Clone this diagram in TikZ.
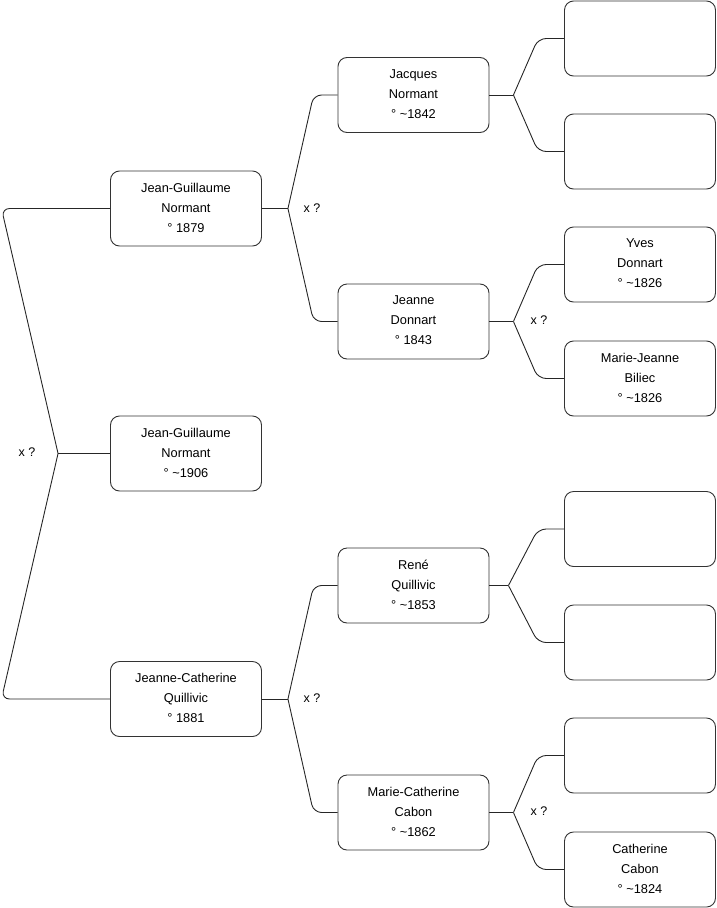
\documentclass[tikz,border=0pt]{standalone}
\usepackage{fontspec}
\setmainfont{Liberation Sans}
\begin{document}
\begin{tikzpicture}[x=1pt,y=-1pt,
  person/.style={draw=black!80, line width=0.9pt, rounded corners=9pt, minimum width=151pt, minimum height=75pt, align=center, font=\fontsize{12.8}{20}\selectfont, inner sep=0pt, text depth=2pt},
  conn/.style={draw=black!85, line width=0.9pt},
  lbl/.style={font=\fontsize{12.5}{14}\selectfont, inner sep=0pt}]
\useasboundingbox (0,0) rectangle (716,908);
% column 1
\node[person] (g1) at (186,208.5) {Jean-Guillaume\\Normant\\° 1879};
\node[person] (me) at (186,453.5) {Jean-Guillaume\\Normant\\° \textasciitilde1906};
\node[person] (g2) at (186,699) {Jeanne-Catherine\\Quillivic\\° 1881};
% column 2
\node[person] (p1) at (413.5,95) {Jacques\\Normant\\° \textasciitilde1842};
\node[person] (p2) at (413.5,321.5) {Jeanne\\Donnart\\° 1843};
\node[person] (p3) at (413.5,585.5) {René\\Quillivic\\° \textasciitilde1853};
\node[person] (p4) at (413.5,812.5) {Marie-Catherine\\Cabon\\° \textasciitilde1862};
% column 3
\node[person] (q1) at (640,38.5) {};
\node[person] (q2) at (640,151.5) {};
\node[person] (q3) at (640,264.5) {Yves\\Donnart\\° \textasciitilde1826};
\node[person] (q4) at (640,378.5) {Marie-Jeanne\\Biliec\\° \textasciitilde1826};
\node[person] (q5) at (640,529) {};
\node[person] (q6) at (640,642.5) {};
\node[person] (q7) at (640,755.5) {};
\node[person] (q8) at (640,869.5) {Catherine\\Cabon\\° \textasciitilde1824};
% left connector
\draw[conn] (me.west) -- ++(-52,0) coordinate (a0);
\draw[conn, rounded corners=8pt] (a0) -- (1.5,208.5) -- (g1.west);
\draw[conn, rounded corners=8pt] (a0) -- (1.5,699) -- (g2.west);
\node[lbl] (l0) at (27,452) {x ?};
% column 2 connectors
\draw[conn] (g1.east) -- ++(26,0) coordinate (a1);
\draw[conn, rounded corners=8pt] (a1) -- ([xshift=-24pt]p1.west) -- (p1.west);
\draw[conn, rounded corners=8pt] (a1) -- ([xshift=-24pt]p2.west) -- (p2.west);
\node[lbl] (l1) at (312,208) {x ?};
\draw[conn] (g2.east) -- ++(26,0) coordinate (a2);
\draw[conn, rounded corners=8pt] (a2) -- ([xshift=-24pt]p3.west) -- (p3.west);
\draw[conn, rounded corners=8pt] (a2) -- ([xshift=-24pt]p4.west) -- (p4.west);
\node[lbl] (l2) at (312,698) {x ?};
% column 3 connectors
\draw[conn] (p1.east) -- ++(24,0) coordinate (b1);
\draw[conn, rounded corners=8pt] (b1) -- ([xshift=-26pt]q1.west) -- (q1.west);
\draw[conn, rounded corners=8pt] (b1) -- ([xshift=-26pt]q2.west) -- (q2.west);
\draw[conn] (p2.east) -- ++(24,0) coordinate (b2);
\draw[conn, rounded corners=8pt] (b2) -- ([xshift=-26pt]q3.west) -- (q3.west);
\draw[conn, rounded corners=8pt] (b2) -- ([xshift=-26pt]q4.west) -- (q4.west);
\node[lbl] (l3) at (539,320) {x ?};
\draw[conn] (p3.east) -- ++(19,0) coordinate (b3);
\draw[conn, rounded corners=8pt] (b3) -- ([xshift=-26pt]q5.west) -- (q5.west);
\draw[conn, rounded corners=8pt] (b3) -- ([xshift=-26pt]q6.west) -- (q6.west);
\draw[conn] (p4.east) -- ++(24,0) coordinate (b4);
\draw[conn, rounded corners=8pt] (b4) -- ([xshift=-26pt]q7.west) -- (q7.west);
\draw[conn, rounded corners=8pt] (b4) -- ([xshift=-26pt]q8.west) -- (q8.west);
\node[lbl] (l4) at (539,811) {x ?};
\end{tikzpicture}
\end{document}
